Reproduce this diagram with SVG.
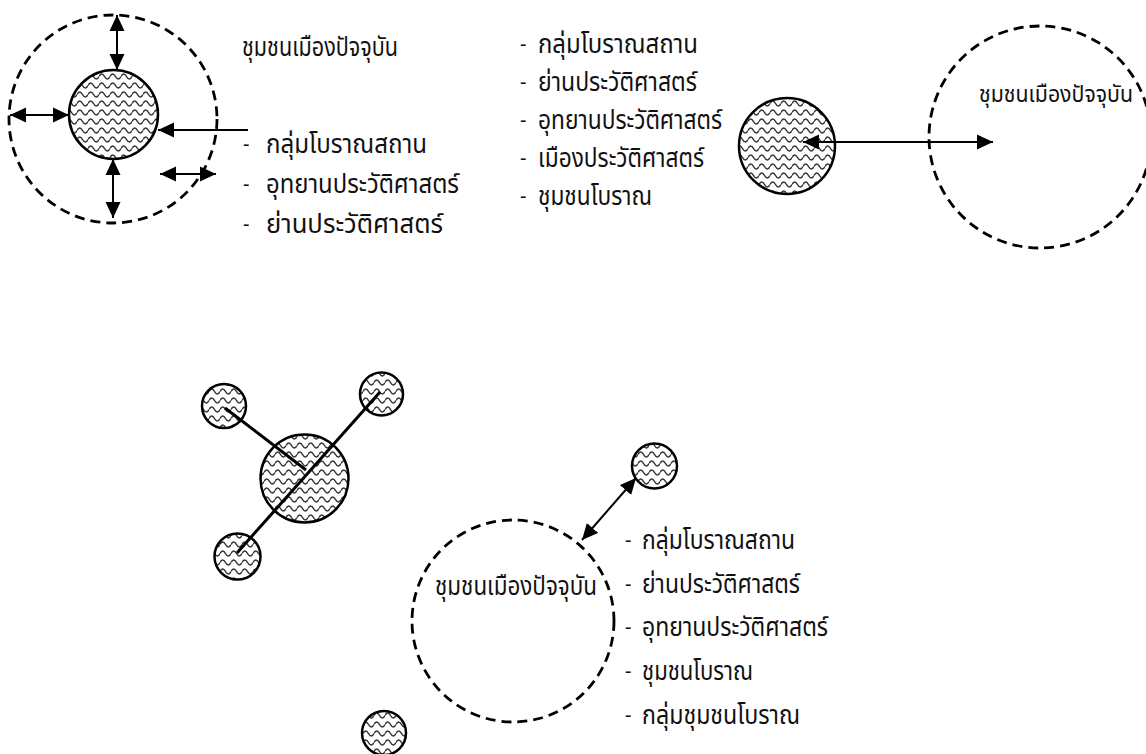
<svg xmlns="http://www.w3.org/2000/svg" width="1146" height="754" viewBox="0 0 1146 754">
<style>
.t{font-family:"Noto Sans Thai","Noto Sans Thai Looped","Noto Sans","DejaVu Sans",sans-serif;font-size:26px;fill:#111}
.d{font-family:"Noto Sans","DejaVu Sans",sans-serif;font-size:20px;fill:#111}
.dash{fill:none;stroke:#000;stroke-width:2.8;stroke-dasharray:10 6}
.hat{fill:url(#wave);stroke:#000;stroke-width:2.5}
.ln{fill:none;stroke:#000;stroke-width:2}
.arr2{marker-start:url(#ah);marker-end:url(#ah)}
.arr1{marker-end:url(#ah)}
.bar{fill:none;stroke:#000;stroke-width:3}
</style>
<defs>
<pattern id="wave" patternUnits="userSpaceOnUse" width="11" height="9">
<rect width="11" height="9" fill="#fff"/>
<path d="M0,4.5 Q2.75,-0.5 5.5,4.5 T11,4.5" fill="none" stroke="#333" stroke-width="1.5"/>
</pattern>
<marker id="ah" markerUnits="userSpaceOnUse" markerWidth="17" markerHeight="16" refX="16" refY="7.5" orient="auto-start-reverse" viewBox="0 0 17 15">
<path d="M0,0 L16,7.5 L0,15 z" fill="#000"/>
</marker>
</defs>
<rect width="1146" height="754" fill="#fff"/>

<g id="topleft-outer"><circle class="dash" cx="113" cy="119" r="104"/></g>
<g id="topleft-core"><circle class="hat" cx="113.5" cy="114.5" r="44.5"/></g>
<g id="topleft-title"><text class="t" x="242" y="56" textLength="156" lengthAdjust="spacingAndGlyphs">ชุมชนเมืองปัจจุบัน</text></g>
<g id="topleft-list">
<text class="d" x="243" y="151">-</text><text class="t" x="266" y="153" textLength="161" lengthAdjust="spacingAndGlyphs">กลุ่มโบราณสถาน</text>
<text class="d" x="243" y="191">-</text><text class="t" x="266" y="193" textLength="193" lengthAdjust="spacingAndGlyphs">อุทยานประวัติศาสตร์</text>
<text class="d" x="243" y="231">-</text><text class="t" x="266" y="233" textLength="177" lengthAdjust="spacingAndGlyphs">ย่านประวัติศาสตร์</text>
</g>

<g id="middle-list">
<text class="d" x="520" y="51">-</text><text class="t" x="538" y="53" textLength="160" lengthAdjust="spacingAndGlyphs">กลุ่มโบราณสถาน</text>
<text class="d" x="520" y="89">-</text><text class="t" x="538" y="91" textLength="159" lengthAdjust="spacingAndGlyphs">ย่านประวัติศาสตร์</text>
<text class="d" x="520" y="127">-</text><text class="t" x="538" y="129" textLength="184" lengthAdjust="spacingAndGlyphs">อุทยานประวัติศาสตร์</text>
<text class="d" x="520" y="165">-</text><text class="t" x="538" y="167" textLength="166" lengthAdjust="spacingAndGlyphs">เมืองประวัติศาสตร์</text>
<text class="d" x="520" y="203">-</text><text class="t" x="538" y="205" textLength="114" lengthAdjust="spacingAndGlyphs">ชุมชนโบราณ</text>
</g>

<g id="topright-core"><circle class="hat" cx="787" cy="146" r="48"/></g>
<g id="topright-outer"><circle class="dash" cx="1040" cy="137" r="111"/></g>
<g id="topright-title"><text class="t" x="979" y="102" style="font-size:23px" textLength="154" lengthAdjust="spacingAndGlyphs">ชุมชนเมืองปัจจุบัน</text></g>

<g id="cluster-big"><circle class="hat" cx="304.5" cy="478.5" r="44"/></g>
<g id="cluster-a"><circle class="hat" cx="224" cy="406" r="22"/></g>
<g id="cluster-b"><circle class="hat" cx="381.5" cy="394" r="21.5"/></g>
<g id="cluster-c"><circle class="hat" cx="237.5" cy="556.5" r="23"/></g>

<g id="bottom-outer"><circle class="dash" cx="513" cy="621" r="101"/></g>
<g id="bottom-title"><text class="t" x="435" y="595" textLength="162" lengthAdjust="spacingAndGlyphs">ชุมชนเมืองปัจจุบัน</text></g>
<g id="bottom-sat1"><circle class="hat" cx="654.5" cy="466" r="22.5"/></g>
<g id="bottom-sat2"><circle class="hat" cx="384" cy="733" r="22"/></g>
<g id="bottom-list">
<text class="d" x="625" y="547">-</text><text class="t" x="642" y="549" textLength="153" lengthAdjust="spacingAndGlyphs">กลุ่มโบราณสถาน</text>
<text class="d" x="625" y="591">-</text><text class="t" x="642" y="593" textLength="158" lengthAdjust="spacingAndGlyphs">ย่านประวัติศาสตร์</text>
<text class="d" x="625" y="634">-</text><text class="t" x="642" y="636" textLength="186" lengthAdjust="spacingAndGlyphs">อุทยานประวัติศาสตร์</text>
<text class="d" x="625" y="678">-</text><text class="t" x="642" y="680" textLength="111" lengthAdjust="spacingAndGlyphs">ชุมชนโบราณ</text>
<text class="d" x="625" y="722">-</text><text class="t" x="642" y="724" textLength="158" lengthAdjust="spacingAndGlyphs">กลุ่มชุมชนโบราณ</text>
</g>

<g id="connectors">
<line class="ln arr2" x1="117" y1="70" x2="117" y2="15"/>
<line class="ln arr2" x1="69" y1="115" x2="10" y2="115"/>
<line class="ln arr2" x1="113" y1="159" x2="113" y2="218"/>
<line class="ln arr1" x1="248" y1="130" x2="158" y2="130"/>
<line class="ln arr2" x1="160" y1="174" x2="216" y2="174"/>
<line class="ln arr2" x1="803" y1="142" x2="993" y2="142"/>
<line class="bar" x1="225" y1="408" x2="306" y2="470"/>
<line class="bar" x1="380" y1="392" x2="237" y2="553"/>
<line class="ln arr2" x1="636" y1="478" x2="582" y2="540"/>
</g>
</svg>
